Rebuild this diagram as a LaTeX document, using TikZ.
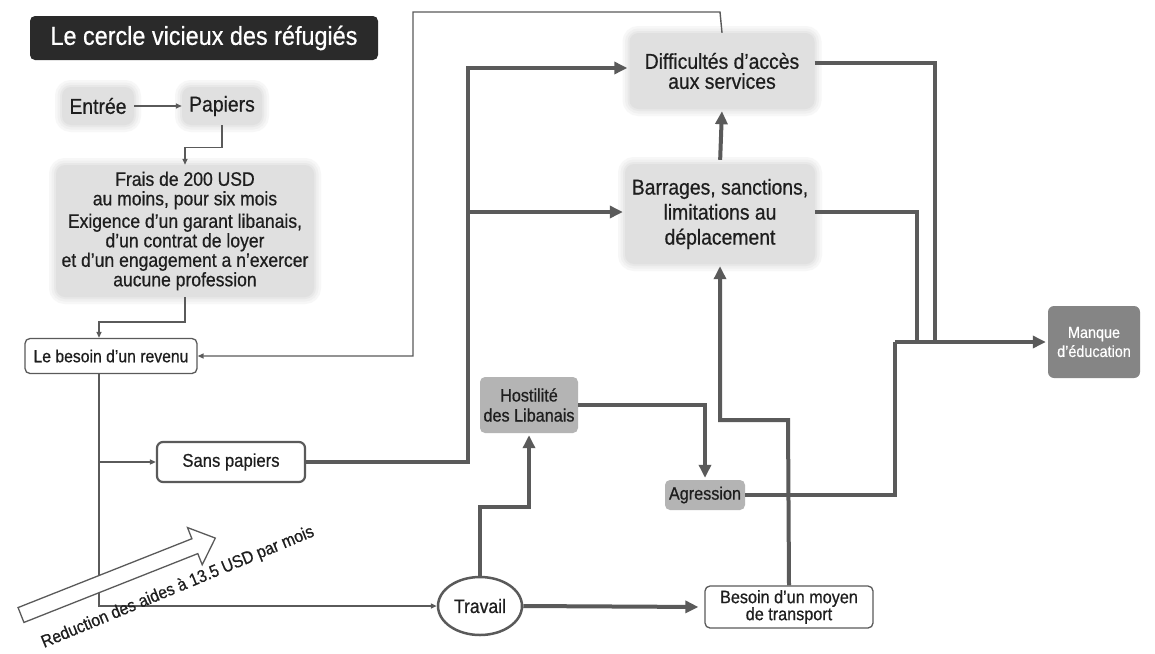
\documentclass[tikz,border=0pt]{standalone}
\usepackage{fontspec}
\setmainfont{Liberation Sans}[FakeStretch=0.9,FakeBold=0.6]
\usetikzlibrary{arrows.meta,shapes.geometric,calc}
\definecolor{ink}{HTML}{1E1E1E}
\definecolor{lin}{HTML}{5A5A5A}
\definecolor{titlebg}{HTML}{2A2A2A}
\definecolor{hosbg}{HTML}{B4B4B4}
\definecolor{manbg}{HTML}{858585}
\newcommand\fsz[2]{\fontsize{#1}{#2}\selectfont}
\begin{document}
\begin{tikzpicture}[x=1pt,y=-1pt,
  every node/.style={text=ink, inner sep=0pt, align=center},
  soft/.style={fill=black!12, rounded corners=9pt,
    preaction={draw=black!3,line width=14pt},
    preaction={draw=black!6,line width=9pt},
    preaction={draw=black!9,line width=4pt}},
  whitebox/.style={draw=lin, fill=white, rounded corners=5pt, line width=1.3pt},
  greybox/.style={fill=hosbg, rounded corners=5pt},
  thinline/.style={draw=lin, line width=1.4pt},
  thinarrow/.style={thinline, -{Triangle[length=6pt,width=5pt]}},
  thickline/.style={draw=lin, line width=4pt},
  thickarrow/.style={thickline, -{Triangle[length=13pt,width=12pt]}, shorten >=2pt}
]
\useasboundingbox[fill=white] (0,0) rectangle (1155,653);

% title
\node[fill=titlebg, rounded corners=5pt, minimum width=348pt, minimum height=44pt, text=white,
  font=\fsz{26}{30}] (title) at (204,38) {Le cercle vicieux des réfugiés};

% top-left chain
\node[soft, minimum width=72pt, minimum height=38pt, font=\fsz{21.5}{24}] (entree) at (98,106) {Entrée};
\node[soft, minimum width=80pt, minimum height=38pt, font=\fsz{21.5}{24}] (papiers) at (222,106) {Papiers};
\node[soft, minimum width=258pt, minimum height=132pt, font=\fsz{19.5}{19.5}] (frais) at (185,231)
  {Frais de 200 USD\\au moins, pour six mois\\[3pt]Exigence d’un garant libanais,\\d’un contrat de loyer\\et d’un engagement a n’exercer\\aucune profession};
\node[whitebox, minimum width=172pt, minimum height=35pt, font=\fsz{17.5}{20}] (revenu) at (111,356) {Le besoin d’un revenu};
\node[whitebox, line width=2.2pt, rounded corners=6pt, minimum width=148pt, minimum height=40pt, font=\fsz{18.5}{20}] (sans) at (231,462) {Sans papiers};

% central column
\node[soft, minimum width=185pt, minimum height=76pt, font=\fsz{21.5}{20}] (dif) at (722,71) {Difficultés d’accès\\aux services};
\node[soft, minimum width=190pt, minimum height=100pt, font=\fsz{21.5}{25}] (bar) at (720,214) {Barrages, sanctions,\\limitations au\\déplacement};
\node[greybox, minimum width=98pt, minimum height=56pt, font=\fsz{18}{20}] (hos) at (529,405) {Hostilité\\des Libanais};
\node[greybox, minimum width=80pt, minimum height=30pt, font=\fsz{18}{20}] (agr) at (705,495) {Agression};
\node[ellipse, draw=lin, line width=2.5pt, fill=white, minimum width=84pt, minimum height=58pt, font=\fsz{19.5}{20}] (travail) at (480,606) {Travail};
\node[whitebox, minimum width=168pt, minimum height=42pt, font=\fsz{18}{17}] (bes) at (789,607) {Besoin d’un moyen\\de transport};
\node[fill=manbg, rounded corners=6pt, minimum width=92pt, minimum height=72pt, text=white, font=\fsz{16}{19}] (man) at (1094,342) {Manque\\d’éducation};

% coordinates
\coordinate (j1) at (99,322);
\coordinate (b1) at (99,606);
\coordinate (t1) at (720,12);
\coordinate (t2) at (413,12);
\coordinate (vs) at (468,212);
\coordinate (r1) at (935,342);
\coordinate (r2) at (917,342);
\coordinate (m) at (895,342);
\coordinate (h1) at (480,507);
\coordinate (bt) at (788,420);

% thin connectors
\draw[thinarrow] (entree.east) -- (papiers.west);
\draw[thinarrow] (papiers.south) -- ++(0,22) -| (frais.north);
\draw[thinarrow] (frais.south) |- (j1) -- (j1 |- revenu.north);
\draw[thinarrow] (dif.north) -- (t1) -- (t2) |- (revenu.east);
\draw[thinarrow] (j1 |- revenu.south) -- (b1) -- (travail.west);
\draw[thinarrow] (j1 |- sans.west) -- (sans.west);

% thick connectors
\draw[thickarrow] (sans.east) -| (vs) |- ($(dif.west)+(0,-3)$);
\draw[thickarrow] (vs) -- (vs -| bar.west);
\draw[thickarrow, shorten <=4pt] (bar.north) -- (dif.south);
\draw[thickline] ($(dif.east)+(0,-8)$) -| (r1);
\draw[thickline] (bar.east |- vs) -| (r2);
\draw[thickline] (agr.east) -| (m);
\draw[thickarrow] (m) -- (man.west);
\draw[thickarrow] (hos.east) -| (agr.north);
\draw[thickarrow] (travail.north) -- (h1) -| (hos.south);
\draw[thickarrow, shorten >=6pt] (travail.east) -- (bes.west);
\draw[thickarrow] (bes.north) -- (bt) -| (bar.south);

% block arrow
\begin{scope}[shift={(21,615)}, rotate=21.6]
  \draw[draw=lin, line width=1.3pt, fill=white, line join=miter]
    (0,-8) -- (187,-8) -- (187,-20) -- (209,0) -- (187,20) -- (187,8) -- (0,8) -- cycle;
\end{scope}
\node[anchor=base west, rotate=22.5, font=\fsz{17.5}{20}] (red) at (44,648) {Reduction des aides à 13.5 USD par mois};
\end{tikzpicture}
\end{document}
